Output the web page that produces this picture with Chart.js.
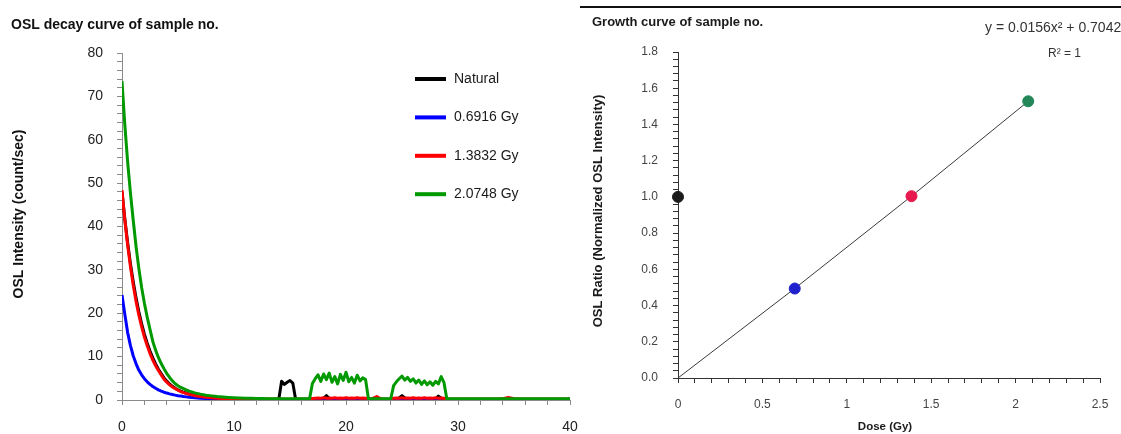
<!DOCTYPE html>
<html>
<head>
<meta charset="utf-8">
<title>OSL decay and growth curves</title>
<script src="https://cdn.jsdelivr.net/npm/chart.js@4/dist/chart.umd.min.js"></script>
<style>
  html, body { margin: 0; padding: 0; background: #ffffff; }
  #wrap { position: relative; width: 1121px; height: 434px; overflow: hidden; background: #ffffff; }
  #decayBox { position: absolute; left: 0; top: 0; width: 580px; height: 434px; }
  #growthBox { position: absolute; left: 580px; top: 0; width: 541px; height: 434px; }
  #topRule { position: absolute; left: 580px; top: 6px; width: 541px; height: 2px; background: #111111; }
</style>
</head>
<body>
<div id="wrap">
  <div id="decayBox"><canvas id="decay" width="580" height="434"></canvas></div>
  <div id="growthBox"><canvas id="growth" width="541" height="434"></canvas></div>
  <div id="topRule"></div>
</div>
<script>
// ---------- OSL decay curves (stimulation time in seconds) ----------
const time = [
  0,0.25,0.5,0.75,1,1.25,1.5,1.75,2,2.25,2.5,2.75,3,3.25,3.5,3.75,4,4.25,4.5,4.75,5,5.25,5.5,5.75,6,
  6.5,7,7.5,8,8.5,9,9.5,10,10.5,11,11.5,12,12.5,13,13.5,14,
  14.25,14.5,14.75,15,15.25,15.5,15.75,16,16.25,16.5,16.75,17,17.25,17.5,17.75,18,18.25,18.5,18.75,19,19.25,19.5,19.75,20,20.25,20.5,20.75,21,21.25,21.5,21.75,22,
  22.25,22.5,22.75,23,23.25,23.5,23.75,24,24.25,24.5,24.75,25,25.25,25.5,25.75,26,26.25,26.5,26.75,27,27.25,27.5,27.75,28,28.25,28.5,28.75,29,29.25,29.5,
  30,30.5,31,31.5,32,32.5,33,33.5,34,34.5,35,35.5,36,36.5,37,37.5,38,38.5,39,39.5,40
];

const naturalCounts = [
  48.0,41.8,36.3,31.5,27.3,23.6,20.4,17.6,15.2,13.1,11.3,9.7,8.3,7.1,6.1,5.1,4.35,3.7,3.15,2.7,2.35,2.05,1.78,1.56,1.36,
  1.05,0.84,0.67,0.54,0.45,0.37,0.31,0.27,0.23,0.21,0.2,0.19,0.18,0.17,0.16,0.16,
  4.3,3.6,4.1,4.5,3.9,0.15,0.15,0.15,0.15,0.15,0.15,0.15,0.15,0.15,0.15,0.4,1.0,0.4,0.15,0.15,0.15,0.15,0.15,0.15,0.15,0.15,0.15,0.15,0.15,0.15,0.15,0.15,
  0.15,0.15,0.15,0.15,0.15,0.15,0.15,0.15,0.15,0.15,0.5,1.0,0.5,0.15,0.15,0.15,0.15,0.15,0.15,0.15,0.15,0.15,0.15,0.15,0.9,0.4,0.15,0.15,0.15,0.15,
  0.15,0.15,0.15,0.15,0.15,0.15,0.15,0.15,0.15,0.15,0.15,0.15,0.15,0.15,0.15,0.15,0.15,0.15,0.15,0.15,0.15
];

const dose1Counts = [
  24.2,19.8,15.6,12.6,10.2,8.4,6.9,5.8,4.9,4.2,3.6,3.1,2.7,2.35,2.05,1.8,1.6,1.42,1.26,1.12,1.0,0.9,0.8,0.72,0.65,
  0.53,0.43,0.35,0.29,0.24,0.2,0.17,0.15,0.13,0.12,0.11,0.1,0.1,0.09,0.09,0.08,
  0.07,0.07,0.07,0.07,0.07,0.07,0.07,0.07,0.07,0.07,0.07,0.07,0.07,0.07,0.07,0.07,0.07,0.07,0.07,0.07,0.07,0.07,0.07,0.07,0.07,0.07,0.07,0.07,0.07,0.07,0.07,0.07,
  0.06,0.06,0.06,0.06,0.06,0.06,0.06,0.06,0.06,0.06,0.06,0.06,0.06,0.06,0.06,0.06,0.06,0.06,0.06,0.06,0.06,0.06,0.06,0.06,0.06,0.06,0.06,0.06,0.06,0.06,
  0.05,0.05,0.05,0.05,0.05,0.05,0.05,0.05,0.05,0.05,0.05,0.05,0.05,0.05,0.05,0.05,0.05,0.05,0.05,0.05,0.05
];

const dose2Counts = [
  48.4,41.5,35.8,30.8,26.5,22.8,19.6,16.9,14.5,12.5,10.7,9.2,7.9,6.8,5.8,4.8,4.1,3.5,3.0,2.6,2.25,1.95,1.7,1.5,1.3,
  1.0,0.8,0.65,0.52,0.43,0.36,0.3,0.26,0.22,0.2,0.19,0.18,0.17,0.16,0.15,0.15,
  0.15,0.15,0.15,0.15,0.15,0.15,0.15,0.15,0.15,0.15,0.15,0.35,0.4,0.45,0.4,0.5,0.4,0.45,0.4,0.5,0.4,0.45,0.4,0.5,0.4,0.45,0.4,0.5,0.4,0.45,0.4,0.3,
  0.2,0.5,0.8,0.4,0.2,0.2,0.2,0.3,0.4,0.45,0.4,0.5,0.4,0.45,0.4,0.5,0.4,0.45,0.4,0.5,0.4,0.45,0.4,0.5,0.4,0.45,0.4,0.25,0.15,0.15,
  0.15,0.15,0.15,0.15,0.15,0.15,0.15,0.15,0.3,0.6,0.3,0.15,0.15,0.15,0.15,0.15,0.15,0.15,0.15,0.15,0.15
];

const dose3Counts = [
  73.5,63.5,55.0,47.8,41.5,35.5,30.4,26.0,22.3,19.1,16.3,13.5,11.5,9.8,8.4,7.2,6.1,5.2,4.4,3.75,3.3,2.9,2.6,2.3,2.05,
  1.65,1.35,1.1,0.95,0.8,0.7,0.6,0.52,0.46,0.42,0.38,0.35,0.33,0.31,0.3,0.3,
  0.3,0.3,0.3,0.3,0.3,0.3,0.3,0.3,0.3,0.3,0.3,3.8,4.9,5.8,4.3,6.0,4.7,6.2,4.1,5.4,3.7,5.9,4.5,6.4,4.2,5.2,3.9,5.7,4.4,5.1,4.7,0.3,
  0.3,0.3,0.3,0.3,0.3,0.3,0.3,0.3,3.3,4.2,4.9,5.5,4.6,5.2,4.3,4.9,3.9,4.6,3.6,4.4,3.5,4.2,3.4,4.3,3.7,5.4,4.0,0.3,0.3,0.3,
  0.3,0.3,0.3,0.3,0.3,0.3,0.3,0.3,0.3,0.3,0.3,0.3,0.3,0.3,0.3,0.3,0.3,0.3,0.3,0.3,0.3
];

const decaySeriesNames = ['Natural', '0.6916 Gy', '1.3832 Gy', '2.0748 Gy'];
const decaySeriesColors = ['#000000', '#0000ff', '#ff0000', '#009900'];

// ---------- Growth curve (dose response) ----------
const doseGy = [0, 0.6916, 1.3832, 2.0748];
const oslRatio = [1.0, 0.494, 1.004, 1.528];
const pointColors = ['#1b1b1b', '#1f22cc', '#e8194f', '#23875a'];
const fitDose = [0, 0.6916, 1.3832, 2.0748];
const fitRatio = [0, 0.4945, 1.004, 1.528];

const FONT = '"Liberation Sans", Arial, Helvetica, sans-serif';

function pairs(xs, ys) { return xs.map((x, i) => ({ x: x, y: ys[i] })); }
function isMultiple(v, step) { const q = v / step; return Math.abs(q - Math.round(q)) < 1e-6; }

// ---------- decay chart ----------
const decayDecor = {
  id: 'decayDecor',
  afterDraw(chart) {
    const c = chart.ctx;
    c.save();
    c.fillStyle = '#111111';
    c.font = 'bold 14px ' + FONT;
    c.textAlign = 'left';
    c.textBaseline = 'alphabetic';
    c.fillText('OSL decay curve of sample no.', 11, 29);

    c.save();
    c.translate(19, 214);
    c.rotate(-Math.PI / 2);
    c.textAlign = 'center';
    c.textBaseline = 'middle';
    c.font = 'bold 14px ' + FONT;
    c.fillText('OSL Intensity (count/sec)', 0, 0);
    c.restore();

    // legend drawn from the datasets, in dataset order
    c.font = '14px ' + FONT;
    c.textBaseline = 'middle';
    chart.data.datasets.forEach((ds, i) => {
      const y = 79 + i * 38.4;
      c.strokeStyle = ds.borderColor;
      c.lineWidth = 4;
      c.beginPath();
      c.moveTo(415, y);
      c.lineTo(446, y);
      c.stroke();
      c.fillStyle = '#1a1a1a';
      c.fillText(ds.label, 454, y);
    });
    c.restore();
  }
};

const decaySeries = [naturalCounts, dose1Counts, dose2Counts, dose3Counts];
// lower order values are painted on top
const decayOrder = [3, 2, 1, 0];

new Chart(document.getElementById('decay'), {
  type: 'line',
  data: {
    datasets: decaySeries.map((vals, i) => ({
      label: decaySeriesNames[i],
      data: pairs(time, vals),
      borderColor: decaySeriesColors[i],
      backgroundColor: decaySeriesColors[i],
      borderWidth: 3,
      pointRadius: 0,
      tension: 0,
      borderJoinStyle: 'round',
      order: decayOrder[i]
    }))
  },
  options: {
    responsive: false,
    animation: false,
    layout: { padding: { top: 53, right: 0, bottom: 0, left: 0 } },
    plugins: { legend: { display: false }, tooltip: { enabled: false }, title: { display: false } },
    scales: {
      x: {
        type: 'linear', min: 0, max: 40,
        ticks: {
          stepSize: 2, autoSkip: false, maxRotation: 0, padding: 14,
          color: '#222222', font: { family: FONT, size: 14 },
          callback: (v) => isMultiple(v, 10) ? String(Math.round(v)) : ''
        },
        grid: { display: true, drawOnChartArea: false, drawTicks: true, tickLength: 5, color: '#8a8a8a' },
        border: { display: true, color: '#8a8a8a', width: 1 },
        afterFit: (s) => { s.height = 34; s.paddingLeft = 0; s.paddingRight = 10; }
      },
      y: {
        type: 'linear', min: 0, max: 80,
        ticks: {
          stepSize: 2, autoSkip: false, padding: 14,
          color: '#222222', font: { family: FONT, size: 14 },
          callback: (v) => isMultiple(v, 10) ? String(Math.round(v)) : ''
        },
        grid: { display: true, drawOnChartArea: false, drawTicks: true, tickLength: 5, color: '#8a8a8a' },
        border: { display: true, color: '#8a8a8a', width: 1 },
        afterFit: (s) => { s.width = 122; }
      }
    }
  },
  plugins: [decayDecor]
});

// ---------- growth chart ----------
const growthDecor = {
  id: 'growthDecor',
  afterDraw(chart) {
    const c = chart.ctx;
    c.save();
    c.fillStyle = '#1a1a1a';
    c.font = 'bold 13px ' + FONT;
    c.textAlign = 'left';
    c.textBaseline = 'alphabetic';
    c.fillText('Growth curve of sample no.', 12, 26);

    c.fillStyle = '#333333';
    c.font = '14px ' + FONT;
    c.fillText('y = 0.0156x\u00B2 + 0.7042x', 405, 32);
    c.font = '12px ' + FONT;
    c.fillText('R\u00B2 = 1', 468, 57);

    c.fillStyle = '#1a1a1a';
    c.font = 'bold 11.5px ' + FONT;
    c.textAlign = 'center';
    c.fillText('Dose (Gy)', 305, 430);

    c.save();
    c.translate(18, 211);
    c.rotate(-Math.PI / 2);
    c.textBaseline = 'middle';
    c.font = 'bold 13px ' + FONT;
    c.fillText('OSL Ratio (Normalized OSL Intensity)', 0, 0);
    c.restore();
    c.restore();
  }
};

new Chart(document.getElementById('growth'), {
  type: 'scatter',
  data: {
    datasets: [
      {
        label: 'OSL ratio',
        data: pairs(doseGy, oslRatio),
        backgroundColor: pointColors,
        borderColor: pointColors,
        pointRadius: 5.5,
        borderWidth: 1,
        showLine: false,
        clip: false,
        order: 0
      },
      {
        label: 'Fit',
        data: pairs(fitDose, fitRatio),
        showLine: true,
        borderColor: '#3a3a3a',
        borderWidth: 1,
        pointRadius: 0,
        tension: 0,
        order: 1
      }
    ]
  },
  options: {
    responsive: false,
    animation: false,
    layout: { padding: { top: 52, right: 0, bottom: 0, left: 0 } },
    plugins: { legend: { display: false }, tooltip: { enabled: false }, title: { display: false } },
    scales: {
      x: {
        type: 'linear', min: 0, max: 2.5,
        ticks: {
          stepSize: 0.1, autoSkip: false, maxRotation: 0, padding: 14,
          color: '#444444', font: { family: FONT, size: 12 },
          callback: (v) => isMultiple(v, 0.5) ? String(Math.round(v * 10) / 10) : ''
        },
        grid: { display: true, drawOnChartArea: false, drawTicks: true, tickLength: 5, color: '#333333' },
        border: { display: true, color: '#333333', width: 1 },
        afterFit: (s) => { s.height = 56; s.paddingLeft = 0; s.paddingRight = 21; }
      },
      y: {
        type: 'linear', min: 0, max: 1.8,
        ticks: {
          stepSize: 0.04, autoSkip: false, padding: 15, maxTicksLimit: 100,
          color: '#444444', font: { family: FONT, size: 12 },
          callback: (v) => isMultiple(v, 0.2) ? v.toFixed(1) : ''
        },
        grid: { display: true, drawOnChartArea: false, drawTicks: true, tickLength: 5, color: '#333333' },
        border: { display: true, color: '#333333', width: 1 },
        afterFit: (s) => { s.width = 98; }
      }
    }
  },
  plugins: [growthDecor]
});
</script>
</body>
</html>
